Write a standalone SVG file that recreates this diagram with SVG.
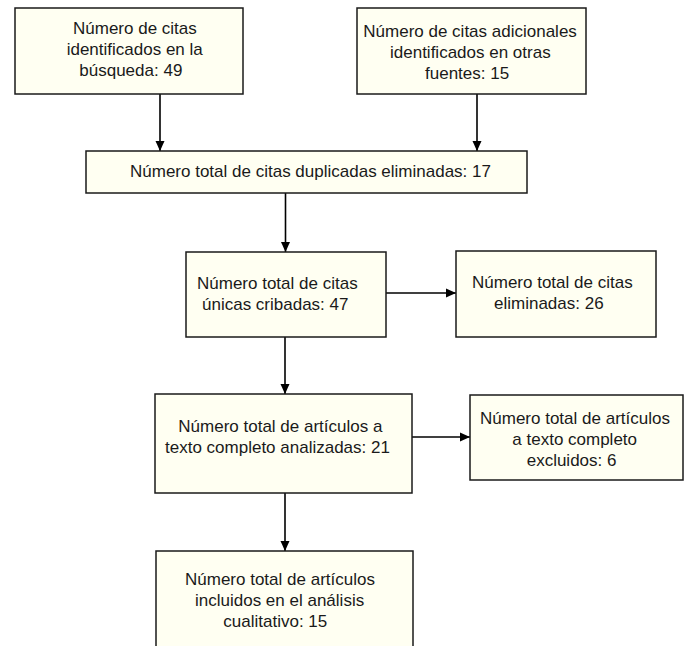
<svg xmlns="http://www.w3.org/2000/svg" width="689" height="646" viewBox="0 0 689 646">
<style>
.box{fill:#fffff2;stroke:#1a1a1a;stroke-width:1.5}
.t{font-family:"Liberation Sans",Arial,Helvetica,sans-serif;font-size:17px;fill:#1a1a1a}
.c{stroke:#000;stroke-width:1.6;fill:none}
</style>
<defs>
<marker id="ah" markerUnits="userSpaceOnUse" markerWidth="10" markerHeight="10" refX="10" refY="5" orient="auto">
<path d="M0,0.5 L10,5 L0,9.5 z" fill="#000"/>
</marker>
</defs>
<rect width="689" height="646" fill="#fff"/>
<g id="connectors">
<line class="c" x1="160" y1="94" x2="160" y2="151" marker-end="url(#ah)"/>
<line class="c" x1="477" y1="94" x2="477" y2="151" marker-end="url(#ah)"/>
<line class="c" x1="285.5" y1="193" x2="285.5" y2="252" marker-end="url(#ah)"/>
<line class="c" x1="386" y1="293" x2="456" y2="293" marker-end="url(#ah)"/>
<line class="c" x1="285" y1="337" x2="285" y2="394" marker-end="url(#ah)"/>
<line class="c" x1="412" y1="437" x2="470" y2="437" marker-end="url(#ah)"/>
<line class="c" x1="285" y1="493" x2="285" y2="551" marker-end="url(#ah)"/>
</g>
<g id="n1">
<rect class="box" x="15" y="8" width="228" height="86"/>
<text class="t" x="73" y="34">Número de citas</text>
<text class="t" x="66.7" y="55">identificados en la</text>
<text class="t" x="79.3" y="76">búsqueda: 49</text>
</g>
<g id="n2">
<rect class="box" x="357" y="8" width="229" height="86"/>
<text class="t" x="363.3" y="37">Número de citas adicionales</text>
<text class="t" x="390" y="58">identificados en otras</text>
<text class="t" x="425" y="79">fuentes: 15</text>
</g>
<g id="n3">
<rect class="box" x="86" y="151" width="441" height="42"/>
<text class="t" x="130" y="177">Número total de citas duplicadas eliminadas: 17</text>
</g>
<g id="n4">
<rect class="box" x="186" y="252" width="200" height="85"/>
<text class="t" x="197" y="289">Número total de citas</text>
<text class="t" x="202" y="310">únicas cribadas: 47</text>
</g>
<g id="n5">
<rect class="box" x="456" y="251" width="200" height="86"/>
<text class="t" x="472" y="288">Número total de citas</text>
<text class="t" x="494" y="309">eliminadas: 26</text>
</g>
<g id="n6">
<rect class="box" x="155" y="394" width="257" height="99"/>
<text class="t" x="178.3" y="432">Número total de artículos a</text>
<text class="t" x="165" y="453">texto completo analizadas: 21</text>
</g>
<g id="n7">
<rect class="box" x="470" y="395" width="213" height="85"/>
<text class="t" x="480" y="424">Número total de artículos</text>
<text class="t" x="512.3" y="445">a texto completo</text>
<text class="t" x="526.7" y="466">excluidos: 6</text>
</g>
<g id="n8">
<rect class="box" x="156" y="551" width="257" height="110"/>
<text class="t" x="185" y="585">Número total de artículos</text>
<text class="t" x="195" y="606">incluidos en el análisis</text>
<text class="t" x="223.3" y="627">cualitativo: 15</text>
</g>
</svg>
